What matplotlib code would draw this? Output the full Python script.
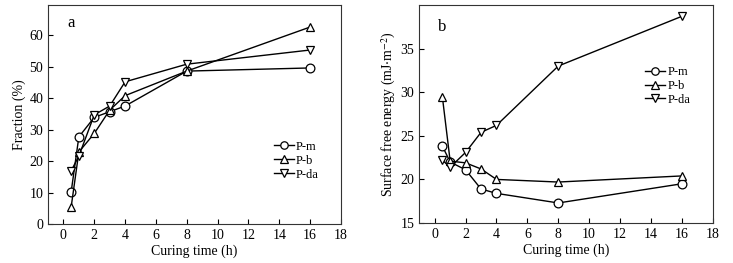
import matplotlib
matplotlib.use("Agg")
import matplotlib.pyplot as plt

plt.rcParams['font.family'] = ['Liberation Serif', 'DejaVu Serif']
plt.rcParams['mathtext.fontset'] = 'stix'

time_h = [0.5, 1, 2, 3, 4, 8, 16]

frac_pm = [10.2, 27.7, 33.9, 35.7, 37.5, 48.6, 49.6]
frac_pb = [5.4, 22.9, 28.8, 36.2, 40.8, 48.6, 62.6]
frac_pda = [16.9, 21.6, 34.7, 37.5, 45.2, 50.8, 55.3]

sfe_pm = [23.8, 22.0, 21.1, 18.9, 18.4, 17.3, 19.5]
sfe_pb = [29.4, 22.1, 21.9, 21.2, 20.0, 19.7, 20.4]
sfe_pda = [22.2, 21.4, 23.1, 25.4, 26.2, 33.0, 38.7]

labels = ['P-m', 'P-b', 'P-da']
markers = ['o', '^', 'v']

fig = plt.figure(figsize=(7.33, 2.63), dpi=100)
ax1 = fig.add_axes([0.0655, 0.148, 0.3997, 0.833])
ax2 = fig.add_axes([0.572, 0.152, 0.4003, 0.829])

def style(ax):
    ax.tick_params(direction='in', length=3.5, width=0.8, labelsize=10,
                   top=False, right=False, colors='black')
    for s in ax.spines.values():
        s.set_linewidth(0.8)
        s.set_color('#333333')
    ax.set_xlim(-1, 18)
    ax.set_xticks(range(0, 19, 2))
    ax.set_xlabel('Curing time (h)', fontsize=10, labelpad=2)

for ys, lab, m in zip([frac_pm, frac_pb, frac_pda], labels, markers):
    ax1.plot(time_h, ys, color='black', lw=1, marker=m, markersize=6.3,
             markerfacecolor='white', markeredgecolor='black', markeredgewidth=0.9,
             label=lab)
style(ax1)
ax1.set_ylim(0, 69.6)
ax1.set_yticks(range(0, 61, 10))
ax1.set_ylabel('Fraction (%)', fontsize=10, labelpad=2)
ax1.text(0.065, 0.92, 'a', transform=ax1.transAxes, fontsize=12, va='center')
ax1.legend(loc='upper left', bbox_to_anchor=(0.77, 0.38), frameon=False,
           fontsize=9, handlelength=1.6, handletextpad=0.2, labelspacing=0.15,
           borderpad=0, borderaxespad=0, markerscale=0.85)

for ys, lab, m in zip([sfe_pm, sfe_pb, sfe_pda], labels, markers):
    ax2.plot(time_h, ys, color='black', lw=1, marker=m, markersize=6.3,
             markerfacecolor='white', markeredgecolor='black', markeredgewidth=0.9,
             label=lab)
style(ax2)
ax2.set_ylim(15, 40)
ax2.set_yticks([15, 20, 25, 30, 35])
ax2.set_ylabel(r'Surface free energy (mJ$\cdot$m$^{-2}$)', fontsize=10, labelpad=2)
ax2.text(0.065, 0.9, 'b', transform=ax2.transAxes, fontsize=12, va='center')
ax2.legend(loc='upper left', bbox_to_anchor=(0.77, 0.72), frameon=False,
           fontsize=9, handlelength=1.6, handletextpad=0.2, labelspacing=0.15,
           borderpad=0, borderaxespad=0, markerscale=0.85)

fig.savefig('out.png', dpi=100)
